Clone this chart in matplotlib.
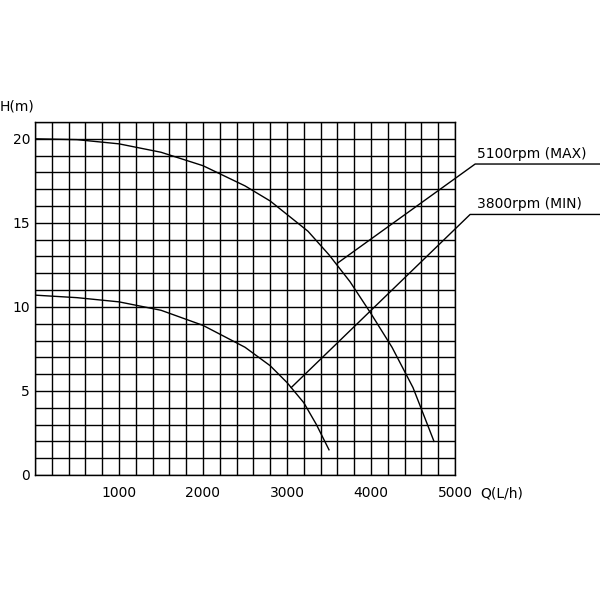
import numpy as np
import matplotlib
matplotlib.use("Agg")
import matplotlib.pyplot as plt

q_max = [0, 500, 1000, 1500, 2000, 2500, 2800, 3000, 3250, 3500, 3750, 4000, 4250, 4500, 4750]
h_max = [20, 19.95, 19.7, 19.2, 18.4, 17.2, 16.3, 15.5, 14.5, 13.1, 11.5, 9.6, 7.6, 5.2, 2.0]
q_min = [0, 500, 1000, 1500, 2000, 2500, 2800, 3000, 3200, 3350, 3500]
h_min = [10.7, 10.55, 10.3, 9.8, 8.9, 7.6, 6.5, 5.5, 4.3, 3.0, 1.5]

x_ticks = [1000, 2000, 3000, 4000, 5000]
y_ticks = [0, 5, 10, 15, 20]

fig = plt.figure(figsize=(6, 6), dpi=100)
ax = fig.add_axes([35 / 600, 125 / 600, 420 / 600, 353 / 600])
ax.set_xlim(0, 5000)
ax.set_ylim(0, 21)

for x in np.arange(0, 5001, 200):
    ax.axvline(x, color="black", lw=1)
for y in range(0, 22):
    ax.axhline(y, color="black", lw=1)

ax.plot(q_max, h_max, color="black", lw=1)
ax.plot(q_min, h_min, color="black", lw=1)

# leader lines to labels
ax.plot([3600, 5240, 6730], [12.6, 18.5, 18.5], color="black", lw=1, clip_on=False)
ax.plot([3050, 5180, 6730], [5.2, 15.5, 15.5], color="black", lw=1, clip_on=False)
ax.text(5260, 18.7, "5100rpm (MAX)", fontsize=10, ha="left", va="bottom")
ax.text(5260, 15.7, "3800rpm (MIN)", fontsize=10, ha="left", va="bottom")

for s in ax.spines.values():
    s.set_linewidth(1)
ax.tick_params(length=0, labelsize=10)
ax.set_xticks(x_ticks)
ax.set_xticklabels([str(t) for t in x_ticks])
ax.set_yticks(y_ticks)
ax.tick_params(axis="x", pad=8)
ax.text(5300, -1.1, "Q(L/h)", fontsize=10, ha="left", va="center")
ax.text(-420, 21.9, "H(m)", fontsize=10, ha="left", va="center")

fig.savefig("out.png")
